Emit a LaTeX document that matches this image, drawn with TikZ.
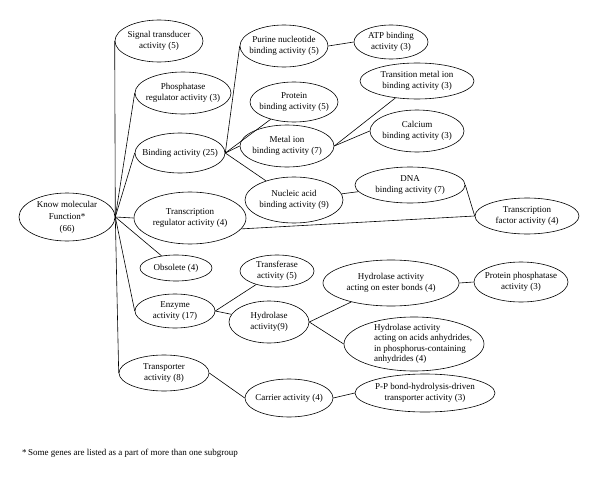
\documentclass[tikz,border=0pt]{standalone}
\usepackage{fontspec}
\setmainfont{Liberation Serif}
\usetikzlibrary{shapes.geometric}

\begin{document}
\begin{tikzpicture}[
  x=1pt,y=-1pt,
  font=\fontsize{9}{11}\selectfont,
  ell/.style={draw,ellipse,inner sep=0pt,line width=0.6pt},
  sz/.style 2 args={minimum width=#1pt,minimum height=#2pt},
  txt/.style={align=center,inner sep=0pt},
  lab/.style={label={[txt]center:{#1}}},
  lnk/.style={line width=0.6pt}
]
\useasboundingbox (0,0) rectangle (600,479);

% root and first level
\node[ell,sz={96}{48},lab={Know molecular\\[1pt]Function*\\[1pt](66)}] (root) at (67,217) {};
\node[ell,sz={88}{42},lab={Signal transducer\\activity (5)}] (sig) at (159,41) {};
\node[ell,sz={96}{42},lab={Phosphatase\\regulator activity (3)}] (phr) at (183,93) {};
\node[ell,sz={90}{40},lab={Binding activity (25)}] (bind) at (180,153) {};
\node[ell,sz={112}{52},lab={Transcription\\regulator activity (4)}] (treg) at (190,218) {};
\node[ell,sz={72}{26},lab={Obsolete (4)}] (obs) at (176,268) {};
\node[ell,sz={80}{34},lab={Enzyme\\activity (17)}] (enz) at (175,311) {};
\node[ell,sz={90}{36},lab={Transporter\\activity (8)}] (trp) at (164,373) {};

% binding branch
\node[ell,sz={88}{42},lab={Purine nucleotide\\binding activity (5)}] (pur) at (284,46) {};
\node[ell,sz={74}{34},lab={ATP binding\\activity (3)}] (atp) at (391,42) {};
\node[ell,sz={88}{40},lab={Protein\\binding activity (5)}] (prot) at (294,102) {};
\node[ell,sz={94}{42},lab={Metal ion\\binding activity (7)}] (metal) at (287,146) {};
\node[ell,sz={114}{36},lab={Transition metal ion\\binding activity (3)}] (trans) at (417,81) {};
\node[ell,sz={94}{42},lab={Calcium\\binding activity (3)}] (calc) at (417,131) {};
\node[ell,sz={98}{46},lab={Nucleic acid\\binding activity (9)}] (nuc) at (294,200) {};
\node[ell,sz={110}{36},lab={DNA\\binding activity (7)}] (dna) at (410,185) {};
\node[ell,sz={104}{36},lab={Transcription\\factor activity (4)}] (tf) at (527,216) {};

% enzyme branch
\node[ell,sz={74}{32},lab={Transferase\\activity (5)}] (trf) at (277,271) {};
\node[ell,sz={80}{42},lab={Hydrolase\\activity(9)}] (hyd) at (269,322) {};
\node[ell,sz={136}{46},lab={Hydrolase activity\\acting on ester bonds (4)}] (est) at (391,283) {};
\node[ell,sz={94}{40},lab={Protein phosphatase\\activity (3)}] (pph) at (521,282) {};
\node[ell,sz={140}{54},label={[txt,align=left,xshift=9pt,font=\fontsize{9}{10.5}\selectfont]center:{Hydrolase activity\\acting on acids anhydrides,\\in phosphorus-containing\\anhydrides (4)}}] (anh) at (414,344) {};

% transporter branch
\node[ell,sz={88}{38},lab={Carrier activity (4)}] (car) at (289,398) {};
\node[ell,sz={140}{38},lab={P-P bond-hydrolysis-driven\\transporter activity (3)}] (pp) at (425,393) {};

\node[anchor=west,inner sep=0pt] (fn) at (22,453) {*\,Some genes are listed as a part of more than one subgroup};

\draw[lnk] (root.east) -- (sig.west);
\draw[lnk] (root.east) -- (phr.west);
\draw[lnk] (root.east) -- (bind.west);
\draw[lnk] (root.east) -- (treg.west);
\draw[lnk] (root.east) -- (obs);
\draw[lnk] (root.east) -- (enz.west);
\draw[lnk] (root.east) -- (trp.west);
\draw[lnk] (bind.east) -- (pur.west);
\draw[lnk] (bind.east) -- (prot);
\draw[lnk] (bind.east) -- (metal.west);
\draw[lnk] (bind.east) -- (nuc);
\draw[lnk] (pur.east) -- (atp.west);
\draw[lnk] (metal.east) -- (trans);
\draw[lnk] (metal.east) -- (calc.west);
\draw[lnk] (nuc) -- (dna);
\draw[lnk] (dna.east) -- (tf.west);
\draw[lnk] (treg.-12) -- (tf.west);
\draw[lnk] (enz.east) -- (trf);
\draw[lnk] (enz.east) -- (hyd);
\draw[lnk] (hyd.east) -- (est);
\draw[lnk] (hyd.east) -- (anh.west);
\draw[lnk] (est.east) -- (pph.west);
\draw[lnk] (trp.east) -- (car.west);
\draw[lnk] (car.east) -- (pp.west);
\end{tikzpicture}
\end{document}
